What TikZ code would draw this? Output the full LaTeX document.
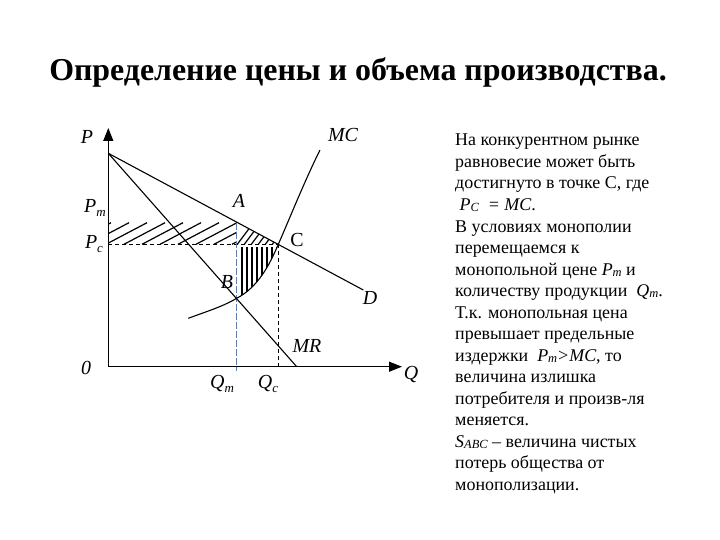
\documentclass[tikz,border=0pt]{standalone}
\usepackage{fontspec}
\setmainfont{Liberation Serif}
\usetikzlibrary{arrows.meta}
\definecolor{Ink}{RGB}{0,0,0}
\definecolor{QmBlue}{RGB}{95,125,175}
\newcommand{\subl}[2]{#1\raisebox{-.35ex}{\fontsize{13}{13}\selectfont #2}}
\newcommand{\txsub}[2]{\textit{#1\raisebox{-.15ex}{\fontsize{12.5}{13}\selectfont #2}}}
\tikzset{
  axis/.style={line width=1.4bp,draw=Ink,-{Triangle[length=13bp,width=10bp]}},
  curve/.style={line width=1.1bp,draw=Ink},
  guide/.style={line width=0.9bp,draw=Ink,dash pattern=on 4bp off 3bp},
  qmguide/.style={line width=0.9bp,draw=QmBlue,dash pattern=on 7bp off 2bp},
  hatch/.style={line width=1.2bp,draw=Ink},
  lbl/.style={font=\fontsize{20}{22}\selectfont\itshape,inner sep=0pt},
  ptlbl/.style={font=\fontsize{20}{22}\selectfont,inner sep=0pt},
  note/.style={font=\fontsize{18}{21.6}\selectfont,align=left,anchor=north west,inner sep=0pt},
  heading/.style={font=\fontsize{32}{36}\selectfont\bfseries,anchor=base,inner sep=0pt}
}
\begin{document}
\begin{tikzpicture}[x=1bp,y=-1bp]
  \useasboundingbox (0,0) rectangle (720,540);
  \node[heading] (title) at (358,81) {Определение цены и объема производства.};
  % key points of the graph
  \coordinate (O) at (108.3,366.7);
  \coordinate (Ptip) at (108.3,128);
  \coordinate (Qtip) at (402,366.7);
  \coordinate (Dtop) at (108.3,153.3);
  \coordinate (Dend) at (363.3,290);
  \coordinate (MRend) at (296.7,366.7);
  \coordinate (A) at (236.7,222.7);
  \coordinate (B) at (236.7,298.3);
  \coordinate (C) at (278.3,244.3);
  \coordinate (Pm) at (108.3,222.7);
  \coordinate (Pc) at (108.3,244.3);
  \coordinate (Ac) at (236.7,244.3);
  \coordinate (Qm) at (236.7,371);
  \coordinate (Qc) at (278.3,366.7);
  \coordinate (MCstart) at (188.3,318.3);
  \coordinate (MCend) at (320,150);
  % hatching
  \begin{scope}
    \clip (Pm) rectangle (Ac);
    \foreach \x in {70,88,...,250} \draw[hatch] (\x,244.3) -- ++(41,-21.6);
  \end{scope}
  \begin{scope}
    \clip (A) -- (C) -- (Ac) -- cycle;
    \foreach \x in {236,243,...,290} \draw[hatch] (\x,246) -- ++(18,-24);
  \end{scope}
  \begin{scope}
    \clip (Ac) -- (B) .. controls (258,287) and (269,266) .. (C) -- cycle;
    \foreach \x in {242,247,...,280} \draw[hatch] (\x,247.5) -- (\x,300);
  \end{scope}
  % guides
  \draw[guide] (Pc) -- (C);
  \draw[guide] (C) -- (Qc);
  \draw[qmguide] (A) -- (Qm);
  % axes and curves
  \draw[axis] (O) -- (Ptip);
  \draw[axis] (O) -- (Qtip);
  \draw[curve] (Dtop) -- (Dend);
  \draw[curve] (Dtop) -- (MRend);
  \draw[curve] (MCstart) .. controls (205,312) and (222,307) .. (B)
    .. controls (258,287) and (269,266) .. (C)
    .. controls (289,220) and (305,180) .. (MCend);
  % labels
  \node[lbl] (lP) at (87,137) {P};
  \node[lbl] (lMC) at (343,135) {MC};
  \node[lbl] (lPm) at (95,208) {\subl{P}{m}};
  \node[lbl] (lPc) at (94,244) {\subl{P}{c}};
  \node[lbl] (lA) at (239,201) {A};
  \node[ptlbl] (lC) at (297,240) {C};
  \node[lbl] (lB) at (227,282) {B};
  \node[lbl] (lD) at (370,298) {D};
  \node[lbl] (lMR) at (307,346) {MR};
  \node[lbl] (l0) at (86,368) {0};
  \node[lbl] (lQm) at (222,384) {\subl{Q}{m}};
  \node[lbl] (lQc) at (268,384) {\subl{Q}{c}};
  \node[lbl] (lQ) at (411,375) {Q};
  % explanation
  \node[note] (txt) at (455,134) {На конкурентном рынке\\
    равновесие может быть\\
    достигнуто в точке С, где\\
    \ \txsub{P}{C} \ \textit{= MC}.\\
    В условиях монополии\\
    перемещаемся к\\
    монопольной цене \txsub{P}{m} и\\
    количеству продукции \ \txsub{Q}{m}.\\
    Т.к. монопольная цена\\
    превышает предельные\\
    издержки \ \txsub{P}{m}\textit{>MC}, то\\
    величина излишка\\
    потребителя и произв-ля\\
    меняется.\\
    \txsub{S}{ABC} – величина чистых\\
    потерь общества от\\
    монополизации.};
\end{tikzpicture}
\end{document}
